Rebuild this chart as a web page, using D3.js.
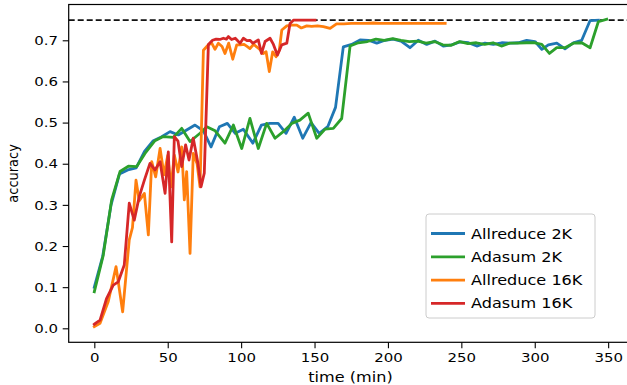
<!DOCTYPE html>
<html>
<head>
<meta charset="utf-8">
<script src="https://cdn.jsdelivr.net/npm/d3@7/dist/d3.min.js"></script>
<style>
body { margin: 0; background: #fff; }
svg { display: block; font-family: "DejaVu Sans", sans-serif; }
</style>
</head>
<body>
<div id="chart"></div>
<script>

// readings from the picture (time in minutes, top-1 accuracy)
var allreduce2kTime = [0, 5.7, 11.4, 17.1, 22.8, 28.5, 34.2, 39.9, 45.6, 51.6, 57.2, 62.9, 68.6, 74.3, 79.5, 85.2, 90.6, 96, 101.5, 108, 113.8, 119.5, 125.2, 130.6, 136.2, 142, 147.6, 153.2, 159, 164.3, 169.6, 175.3, 181, 186.7, 192.4, 198, 203.7, 209.4, 215, 220.7, 226.4, 232.1, 237.7, 243.4, 249.1, 254.8, 260.5, 266.1, 271.8, 277.5, 283.2, 288.8, 294.5, 300.2, 304.8, 309.3, 315, 320.6, 326.3, 332, 337.7, 343.3];
var allreduce2kAcc = [0.10, 0.175, 0.30, 0.375, 0.385, 0.39, 0.43, 0.455, 0.465, 0.478, 0.47, 0.482, 0.494, 0.48, 0.441, 0.49, 0.498, 0.474, 0.484, 0.45, 0.494, 0.498, 0.498, 0.474, 0.513, 0.462, 0.50, 0.474, 0.49, 0.537, 0.684, 0.69, 0.701, 0.70, 0.693, 0.70, 0.703, 0.697, 0.682, 0.70, 0.69, 0.698, 0.686, 0.689, 0.696, 0.694, 0.686, 0.693, 0.69, 0.694, 0.693, 0.694, 0.70, 0.697, 0.678, 0.689, 0.693, 0.679, 0.694, 0.70, 0.748, 0.749];

var adasum2kTime = [0, 6.1, 11.8, 17.5, 23.2, 28.9, 34.5, 41.3, 47, 53.8, 59.5, 65.2, 72, 76.6, 82.3, 89, 94.7, 100.4, 106, 111.7, 117.4, 123.1, 128.7, 134.5, 140, 145.7, 151.5, 157.2, 162.8, 168.5, 174.2, 179.8, 186.1, 191.8, 197.5, 203.2, 208.9, 214.6, 220.3, 226, 231.7, 237.4, 243.1, 248.8, 254.5, 260.2, 265.9, 271.6, 277.3, 283, 288.7, 294.4, 300.1, 304.8, 310, 315, 320.6, 326.3, 332, 337.7, 343.3, 349];
var adasum2kAcc = [0.089, 0.178, 0.312, 0.381, 0.394, 0.393, 0.425, 0.456, 0.466, 0.464, 0.486, 0.454, 0.474, 0.49, 0.48, 0.45, 0.494, 0.437, 0.51, 0.437, 0.498, 0.462, 0.478, 0.498, 0.506, 0.523, 0.462, 0.484, 0.486, 0.51, 0.686, 0.694, 0.697, 0.703, 0.70, 0.704, 0.70, 0.697, 0.698, 0.693, 0.697, 0.689, 0.688, 0.697, 0.692, 0.694, 0.69, 0.694, 0.686, 0.693, 0.693, 0.694, 0.694, 0.69, 0.668, 0.682, 0.682, 0.693, 0.694, 0.682, 0.745, 0.751];

var allreduce16kTime = [0, 3.9, 9.5, 14.8, 19.3, 23.8, 26, 28.4, 30.6, 34.1, 36.8, 39.1, 41.8, 44.8, 47.5, 50, 52.2, 54.5, 57, 59.5, 61.3, 62.9, 65.2, 67.4, 70, 72, 74.3, 77.7, 80, 82.2, 84.5, 87, 89, 91.5, 94.3, 97, 99.5, 102, 104, 106, 108.5, 111, 112.9, 115.1, 117, 119.2, 121.5, 123.8, 126, 127.7, 131.1, 134.5, 137.9, 141, 144.7, 148, 152, 156, 160.6, 165, 170, 175, 180, 185, 190, 195, 200, 205, 210, 215, 220, 225, 230, 235, 239];
var allreduce16kAcc = [0.004, 0.012, 0.065, 0.15, 0.04, 0.215, 0.245, 0.36, 0.31, 0.328, 0.227, 0.405, 0.368, 0.437, 0.373, 0.42, 0.344, 0.421, 0.38, 0.441, 0.312, 0.381, 0.182, 0.425, 0.40, 0.344, 0.676, 0.689, 0.693, 0.678, 0.693, 0.685, 0.668, 0.693, 0.654, 0.689, 0.689, 0.69, 0.685, 0.68, 0.69, 0.683, 0.677, 0.668, 0.672, 0.624, 0.672, 0.66, 0.676, 0.725, 0.735, 0.737, 0.737, 0.73, 0.735, 0.734, 0.735, 0.733, 0.729, 0.74, 0.74, 0.741, 0.741, 0.741, 0.742, 0.741, 0.741, 0.741, 0.741, 0.741, 0.741, 0.741, 0.741, 0.741, 0.741];

var adasum16kTime = [0, 3.9, 8.4, 12.9, 16.3, 20.4, 23.8, 27.2, 30.6, 34.1, 37.9, 41.3, 44.8, 48.2, 50.4, 52.7, 54.5, 57, 59.5, 62.2, 64.5, 67.4, 70.4, 72.7, 74.9, 77.7, 80.5, 83, 85.5, 87.9, 90, 91.3, 93.5, 96, 99.3, 101.5, 104, 106, 108, 110, 111.7, 113.9, 116.3, 119.7, 122, 124.7, 127.7, 131.1, 133.3, 135.6, 140, 145, 150.3];
var adasum16kAcc = [0.01, 0.02, 0.073, 0.105, 0.113, 0.154, 0.304, 0.263, 0.32, 0.36, 0.401, 0.385, 0.405, 0.328, 0.429, 0.21, 0.466, 0.455, 0.393, 0.446, 0.409, 0.462, 0.405, 0.344, 0.377, 0.69, 0.70, 0.703, 0.702, 0.705, 0.703, 0.709, 0.702, 0.705, 0.693, 0.705, 0.699, 0.70, 0.693, 0.697, 0.701, 0.668, 0.697, 0.705, 0.69, 0.664, 0.689, 0.693, 0.741, 0.749, 0.749, 0.749, 0.749];

var seriesNames = ["Allreduce 2K", "Adasum 2K", "Allreduce 16K", "Adasum 16K"];
var seriesColors = ["#1f77b4", "#2ca02c", "#ff7f0e", "#d62728"];
var seriesTimes = [allreduce2kTime, adasum2kTime, allreduce16kTime, adasum16kTime];
var seriesAccs = [allreduce2kAcc, adasum2kAcc, allreduce16kAcc, adasum16kAcc];

var xTicks = [0, 50, 100, 150, 200, 250, 300, 350];
var yTicks = [0.0, 0.1, 0.2, 0.3, 0.4, 0.5, 0.6, 0.7];
var targetAcc = 0.749;

var width = 627, height = 385;
var stretch = 1.15;   // the picture's text is a bit wider than tall

var svg = d3.select("#chart")
    .append("svg")
    .attr("width", width)
    .attr("height", height);

var x = d3.scaleLinear()
    .domain([-17.45, 366.45])
    .range([68.7, 632.3]);

var y = d3.scaleLinear()
    .domain([-0.034, 0.787])
    .range([342.3, 4.5]);

// target line
svg.append("line")
    .attr("x1", x.range()[0]).attr("x2", x.range()[1])
    .attr("y1", y(targetAcc)).attr("y2", y(targetAcc))
    .attr("stroke", "#111")
    .attr("stroke-width", 1.6)
    .attr("stroke-dasharray", "6,3");

var line = d3.line()
    .x(function(d) { return x(d[0]); })
    .y(function(d) { return y(d[1]); });

seriesNames.forEach(function(name, i) {
    var pts = seriesTimes[i].map(function(t, j) { return [t, seriesAccs[i][j]]; });
    svg.append("path")
        .datum(pts)
        .attr("fill", "none")
        .attr("stroke", seriesColors[i])
        .attr("stroke-width", 2.8)
        .attr("stroke-linejoin", "round")
        .attr("stroke-linecap", "square")
        .attr("d", line);
});

// axes
var xAxis = svg.append("g")
    .attr("transform", "translate(0," + y.range()[0] + ")")
    .call(d3.axisBottom(x).tickValues(xTicks).tickSize(6).tickSizeOuter(0).tickPadding(4));

var yAxis = svg.append("g")
    .attr("transform", "translate(" + x.range()[0] + ",0)")
    .call(d3.axisLeft(y).tickValues(yTicks).tickFormat(d3.format(".1f")).tickSize(6).tickSizeOuter(0).tickPadding(3));

[xAxis, yAxis].forEach(function(ax) {
    ax.select(".domain").remove();
    ax.selectAll("line").attr("stroke", "#000").attr("stroke-width", 1.1);
    ax.selectAll("text")
        .attr("fill", "#000")
        .style("font-size", "13px")
        .style("font-family", "'DejaVu Sans', sans-serif");
});
xAxis.selectAll("text").attr("transform", "scale(" + stretch + ",1)");
yAxis.selectAll("text").attr("x", -9.3).attr("transform", "scale(" + stretch + ",1)");

// frame
svg.append("rect")
    .attr("x", x.range()[0])
    .attr("y", y.range()[1])
    .attr("width", x.range()[1] - x.range()[0])
    .attr("height", y.range()[0] - y.range()[1])
    .attr("fill", "none")
    .attr("stroke", "#000")
    .attr("stroke-width", 1.2);

// axis labels
svg.append("text")
    .attr("transform", "translate(" + ((x.range()[0] + x.range()[1]) / 2) + ",382) scale(" + stretch + ",1)")
    .style("text-anchor", "middle")
    .style("font-size", "14px")
    .text("time (min)");

svg.append("text")
    .attr("transform", "translate(18," + ((y.range()[0] + y.range()[1]) / 2) + ") scale(" + stretch + ",1) rotate(-90)")
    .style("text-anchor", "middle")
    .style("font-size", "13px")
    .text("accuracy");

// legend
var legend = svg.append("g")
    .attr("transform", "translate(426,214)");

legend.append("rect")
    .attr("width", 169)
    .attr("height", 104)
    .attr("rx", 3)
    .attr("fill", "#fff")
    .attr("fill-opacity", 0.8)
    .attr("stroke", "#ccc")
    .attr("stroke-width", 1);

var items = legend.selectAll(".item")
    .data(seriesNames)
    .enter().append("g")
    .attr("class", "item")
    .attr("transform", function(d, i) { return "translate(0," + (19.5 + i * 23.3) + ")"; });

items.append("line")
    .attr("x1", 5).attr("x2", 39)
    .attr("stroke", function(d, i) { return seriesColors[i]; })
    .attr("stroke-width", 2.8);

items.append("text")
    .attr("transform", "translate(45,5) scale(" + stretch + ",1)")
    .style("font-size", "14px")
    .text(function(d) { return d; });

</script>
</body>
</html>
